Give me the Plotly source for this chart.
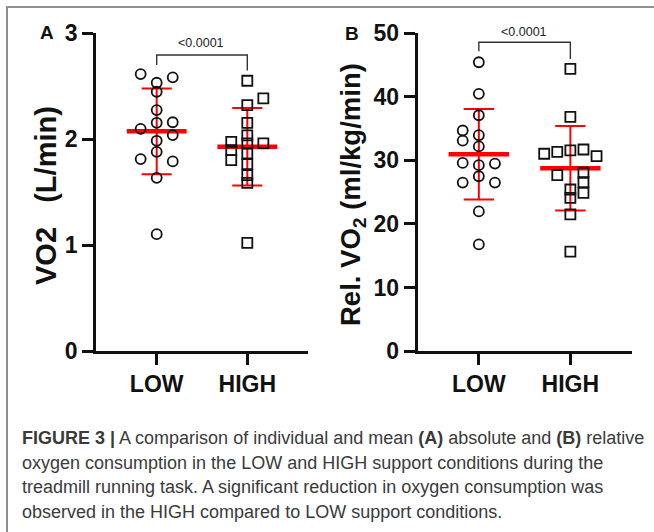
import numpy as np
import plotly.graph_objects as go

# ---------------- data ----------------
categories = ["LOW", "HIGH"]

# Panel A: absolute VO2 (L/min)
a_low = [2.615, 2.584, 2.533, 2.448, 2.275, 2.155, 2.160, 2.098, 2.039, 1.985, 1.881, 1.812, 1.790, 1.635, 1.103]
a_low_slot = [-1, 1, 0, 0, 0, 0, 1, -1, 1, 0, 0, -1, 1, 0, 0]
a_high = [2.552, 2.385, 2.322, 2.155, 2.036, 1.960, 1.975, 1.960, 1.897, 1.865, 1.802, 1.764, 1.660, 1.588, 1.021]
a_high_slot = [0, 1, 0, 0, 0, 0, -1, 1, -1, 0, -1, 0, 0, 0, 0]

# Panel B: relative VO2 (ml/kg/min)
b_low = [45.44, 40.47, 37.10, 34.70, 33.10, 33.96, 32.20, 29.60, 29.25, 29.50, 27.50, 26.50, 26.50, 21.97, 16.78]
b_low_slot = [0, 0, 0, -1, -1, 0, 0, -1, 0, 1, 0, -1, 1, 0, 0]
b_high = [44.40, 36.85, 31.04, 31.35, 31.56, 31.71, 30.66, 27.67, 28.05, 26.57, 24.90, 25.42, 24.10, 21.49, 15.63]
b_high_slot = [0, 0, -2, -1, 0, 1, 2, -1, 1, 1, 1, 0, 0, 0, 0]

a_ticks = [0, 1, 2, 3]
b_ticks = [0, 10, 20, 30, 40, 50]
p_text = "<0.0001"

caption_lines = [
    "<b>FIGURE 3 |</b> A comparison of individual and mean <b>(A)</b> absolute and <b>(B)</b> relative",
    "oxygen consumption in the LOW and HIGH support conditions during the",
    "treadmill running task. A significant reduction in oxygen consumption was",
    "observed in the HIGH compared to LOW support conditions.",
]

# ---------------- figure ----------------
W, H = 654, 532
FONT = "Liberation Sans, Arial, sans-serif"
RED = "#ff0000"
INK = "#111111"

fig = go.Figure()


def px_x(p):
    return p / W


def px_y(p):
    return 1 - p / H


def add_group(xa, ya, xpos, vals, slots, step, symbol):
    v = np.array(vals, dtype=float)
    m = v.mean()
    sd = v.std(ddof=1)
    cap = 0.166
    half = 0.33
    fig.add_trace(go.Scatter(
        x=[xpos, xpos, None, xpos - cap, xpos + cap, None, xpos - cap, xpos + cap],
        y=[m - sd, m + sd, None, m + sd, m + sd, None, m - sd, m - sd],
        mode="lines", line=dict(color=RED, width=2), xaxis=xa, yaxis=ya,
        hoverinfo="skip", showlegend=False, cliponaxis=False))
    fig.add_trace(go.Scatter(
        x=[xpos - half, xpos + half], y=[m, m], mode="lines",
        line=dict(color=RED, width=4.5), xaxis=xa, yaxis=ya,
        hoverinfo="skip", showlegend=False, cliponaxis=False))
    xs = [xpos + s * step for s in slots]
    fig.add_trace(go.Scatter(
        x=xs, y=v, mode="markers", xaxis=xa, yaxis=ya, showlegend=False,
        cliponaxis=False,
        marker=dict(symbol=symbol, size=10, color=INK,
                    line=dict(color=INK, width=1.8))))


add_group("x", "y", 1, a_low, a_low_slot, 0.177, "circle-open")
add_group("x", "y", 2, a_high, a_high_slot, 0.177, "square-open")
add_group("x2", "y2", 1, b_low, b_low_slot, 0.176, "circle-open")
add_group("x2", "y2", 2, b_high, b_high_slot, 0.143, "square-open")


def bracket(xa, ya, top, lb, rb, tx, ty):
    fig.add_trace(go.Scatter(
        x=[1, 1, 2, 2], y=[lb, top, top, rb], mode="lines",
        line=dict(color="#333333", width=1.4), xaxis=xa, yaxis=ya,
        hoverinfo="skip", showlegend=False, cliponaxis=False))
    fig.add_annotation(x=px_x(tx), y=px_y(ty), xref="paper", yref="paper", text=p_text,
                       showarrow=False,
                       font=dict(family=FONT, size=12.5, color="#222222"),
                       xanchor="center", yanchor="middle")


bracket("x", "y", 2.795, 2.70, 2.648, 201, 43.5)
bracket("x2", "y2", 48.58, 47.17, 45.97, 524, 31.5)

axis_common = dict(
    showline=True, linecolor=INK, linewidth=2.5,
    ticks="outside", ticklen=11, tickwidth=2.5, tickcolor=INK,
    showgrid=False, zeroline=False, automargin=False,
    tickfont=dict(family=FONT, size=23, color=INK, weight="bold"),
)

y0, y1 = px_y(351), px_y(33.3)
fig.update_layout(
    width=W, height=H, margin=dict(l=0, r=0, t=0, b=0, pad=0, autoexpand=False),
    paper_bgcolor="white", plot_bgcolor="white",
    showlegend=False,
    xaxis=dict(domain=[px_x(96), px_x(308)], range=[0.33, 2.67],
               tickvals=[1, 2], ticktext=categories, anchor="y", **axis_common),
    yaxis=dict(domain=[y0, y1], range=[0, 3], tickvals=a_ticks, anchor="x",
               **axis_common),
    xaxis2=dict(domain=[px_x(417.5), px_x(631.7)], range=[0.33, 2.67],
                tickvals=[1, 2], ticktext=categories, anchor="y2", **axis_common),
    yaxis2=dict(domain=[y0, y1], range=[0, 50], tickvals=b_ticks, anchor="x2",
                **axis_common),
)

# y-axis titles
fig.add_annotation(x=px_x(46), y=px_y(196), xref="paper", yref="paper",
                   text="<b>VO2 &nbsp;&nbsp;(L/min)</b>", textangle=-90, showarrow=False,
                   font=dict(family=FONT, size=29, color=INK),
                   xanchor="center", yanchor="middle")
fig.add_annotation(x=px_x(352), y=px_y(194), xref="paper", yref="paper",
                   text="<b>Rel. VO<sub>2</sub> (ml/kg/min)</b>", textangle=-90, showarrow=False,
                   font=dict(family=FONT, size=27.5, color=INK),
                   xanchor="center", yanchor="middle")

# panel letters
fig.add_annotation(x=px_x(46.5), y=px_y(32), xref="paper", yref="paper", text="<b>A</b>",
                   showarrow=False, font=dict(family=FONT, size=19, color=INK),
                   xanchor="center", yanchor="middle")
fig.add_annotation(x=px_x(352), y=px_y(33.5), xref="paper", yref="paper", text="<b>B</b>",
                   showarrow=False, font=dict(family=FONT, size=19, color=INK),
                   xanchor="center", yanchor="middle")

# caption
for i, line in enumerate(caption_lines):
    fig.add_annotation(x=px_x(20), y=px_y(438 + i * 24.5), xref="paper", yref="paper",
                       text=line, showarrow=False, align="left",
                       font=dict(family=FONT, size=18, color="#3a3a3a"),
                       xanchor="left", yanchor="middle")

# open frame (top and left)
fig.add_shape(type="line", xref="paper", yref="paper", x0=px_x(6.5), x1=1.0,
              y0=px_y(7), y1=px_y(7), layer="above",
              line=dict(color="#8f8f8f", width=2))
fig.add_shape(type="line", xref="paper", yref="paper", x0=px_x(7), x1=px_x(7),
              y0=px_y(6.5), y1=0.0, layer="above",
              line=dict(color="#8f8f8f", width=2))

fig.write_html("out.html", config={"displayModeBar": False},
               post_script="document.body.style.margin='0px';")
